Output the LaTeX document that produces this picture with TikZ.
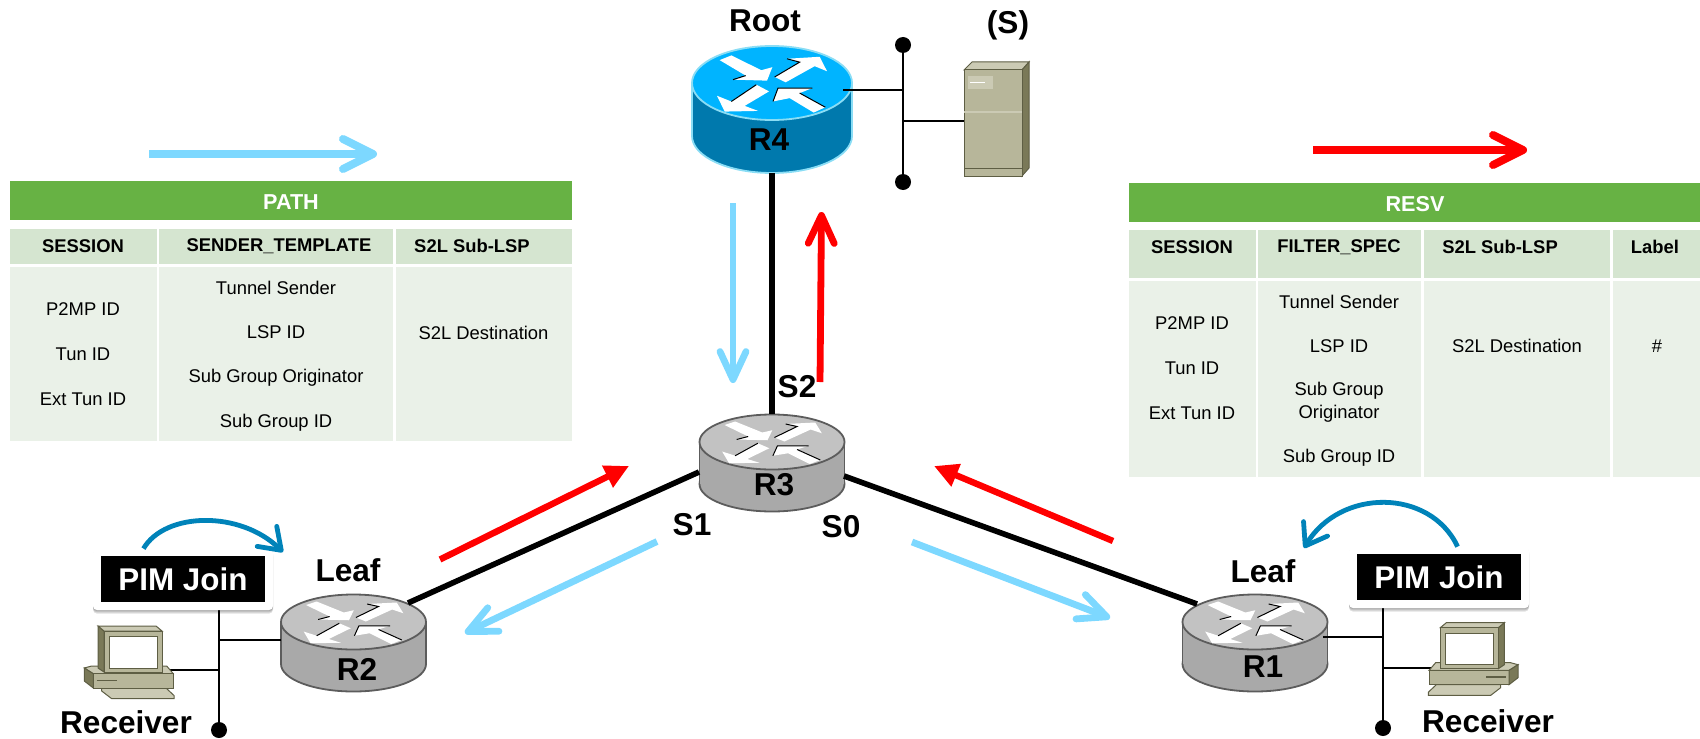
\documentclass[tikz,border=0pt]{standalone}
\usepackage{fontspec}
\setmainfont{Liberation Sans}
\usetikzlibrary{arrows.meta,shadows}

\definecolor{rootblue}{HTML}{00B4FF}
\definecolor{rootside}{HTML}{0079AD}
\definecolor{rootedge}{HTML}{8ADDF5}
\definecolor{coretop}{HTML}{C2C2C2}
\definecolor{coreside}{HTML}{A9A9A9}
\definecolor{coreedge}{HTML}{5C5C5C}
\definecolor{boxfront}{HTML}{B7B69A}
\definecolor{boxtop}{HTML}{CBCAB4}
\definecolor{boxside}{HTML}{7A7958}
\definecolor{boxedge}{HTML}{5E5E44}
\definecolor{tablegreen}{HTML}{67B244}
\definecolor{tablehead}{HTML}{D5E5D0}
\definecolor{tablebody}{HTML}{EAF1E8}
\definecolor{pathblue}{HTML}{7DD8FF}
\definecolor{joinblue}{HTML}{0083B9}

\tikzset{
  trunk/.style={line width=2.8pt,black},
  stub/.style={line width=1pt,black},
  bus/.style={line width=1.3pt,black},
  busdot/.style={circle,fill=black,inner sep=0pt,minimum size=8pt},
  keyflow/.style={line width=4pt,-{Straight Barb[length=15pt,width=15pt,round]}},
  flow/.style={line width=3.4pt,-{Straight Barb[length=14pt,width=13pt,round]}},
  solidflow/.style={line width=3.2pt,red,-{Triangle[length=12pt,width=11.5pt]}},
  joinflow/.style={line width=2.4pt,joinblue,-{Straight Barb[length=10pt,width=14pt,round]}},
  bigtext/.style={font=\fontsize{15.8}{17}\selectfont\bfseries,inner sep=0pt},
  headtext/.style={font=\fontsize{9.2}{11}\selectfont\bfseries,inner sep=0pt},
  bodytext/.style={font=\fontsize{9.2}{11}\selectfont,inner sep=0pt},
  titletext/.style={font=\fontsize{10.8}{12}\selectfont\bfseries,text=white,inner sep=0pt},
  softshadow/.style={drop shadow={shadow xshift=0pt,shadow yshift=#1,opacity=.12,fill=black}},
  pimbox/.style={fill=white,rounded corners=2pt,minimum width=90pt,minimum height=30.5pt,inner sep=0pt,
    softshadow=-.6pt,softshadow=-1.2pt,softshadow=-1.8pt},
  pimtext/.style={fill=black,text=white,minimum width=82pt,minimum height=23pt,inner sep=0pt,
    font=\fontsize{15.7}{17}\selectfont\bfseries},
  arrowedge/.style={black,line width=.5pt},
}

% name, cx, cy, rx, ry, height, top, side, edge
\newcommand{\router}[9]{
  \begin{scope}[shift={(#2,#3)}]
    \filldraw[fill=#8,draw=#9,line width=.9pt] (0,#6) ellipse [x radius=#4,y radius=#5];
    \fill[#8] (-#4,0) rectangle (#4,#6);
    \draw[#9,line width=.9pt] (-#4,0) -- (-#4,#6) (#4,0) -- (#4,#6);
    \filldraw[fill=#7,draw=#9,line width=.9pt] (0,0) ellipse [x radius=#4,y radius=#5];
    \begin{scope}[x={#4*0.5pt/240},y={-#5*0.5pt/110},shift={(-337,-250)}]
      \fill[white] (180,182) -- (215,168) -- (305,212) -- (338,203) -- (322,243) -- (220,240) -- (258,228) -- cycle;
      \fill[white] (345,232) -- (420,188) -- (382,178) -- (480,172) -- (502,215) -- (465,200) -- (378,248) -- cycle;
      \fill[white] (328,275) -- (290,255) -- (215,305) -- (172,288) -- (195,335) -- (295,333) -- (255,318) -- cycle;
      \fill[white] (340,305) -- (355,265) -- (458,265) -- (420,280) -- (497,322) -- (462,338) -- (390,295) -- cycle;
      \draw[arrowedge] (258,228) -- (220,240);
      \draw[arrowedge] (345,232) -- (420,188) -- (382,178);
      \draw[arrowedge] (215,305) -- (290,255);
      \draw[arrowedge] (340,305) -- (355,265) -- (458,265) (420,280) -- (497,322);
    \end{scope}
  \end{scope}
  \node[inner sep=0pt,minimum width={#4*1pt},minimum height={(#5+#6/2)*1pt}] (#1) at (#2,#3+#6/2) {};
}

% monitor corner is the origin
\newcommand{\desktop}{
  \begin{scope}[draw=boxedge,line width=.5pt]
    \filldraw[fill=boxtop] (-2.3,57) -- (62,57) -- (70,64.5) -- (70,67.7) -- (7.7,67.7) -- (-2.3,60) -- cycle;
    \filldraw[fill=boxtop] (-19.7,37) -- (-12.3,35) -- (62.7,35) -- (69.3,42.7) -- (-10.7,42.7) -- cycle;
    \filldraw[fill=boxfront] (-10.7,42.7) rectangle (69.3,57);
    \filldraw[fill=boxside] (-19.7,37) -- (-10.7,42.7) -- (-10.7,57) -- (-19.7,50) -- cycle;
    \draw[boxedge,line width=.7pt] (-7.3,49.3) -- (12.7,49.3);
    \filldraw[fill=boxside] (-6,-5) -- (0,0) -- (0,41) -- (-6,37) -- cycle;
    \filldraw[fill=boxtop] (-6,-5) -- (52,-5) -- (58,0) -- (0,0) -- cycle;
    \filldraw[fill=boxfront] (0,0) rectangle (58,41);
    \filldraw[fill=white,draw=boxedge] (5.3,5.3) rectangle (53.3,37);
  \end{scope}
}

\begin{document}
\begin{tikzpicture}[x=0.5pt,y=-0.5pt]
  \useasboundingbox (0,0) rectangle (1700,738);

  % routers
  \router{rfour}{772}{83}{80}{37}{53}{rootblue}{rootside}{rootedge}
  \router{rthree}{772}{442}{72.5}{27.5}{42}{coretop}{coreside}{coreedge}
  \router{rtwo}{353.5}{622}{72.5}{27.5}{42}{coretop}{coreside}{coreedge}
  \router{rone}{1255}{622}{72.5}{27.5}{42}{coretop}{coreside}{coreedge}

  \node[bigtext] (rfourname) at (769,140) {R4};
  \node[bigtext] (rthreename) at (774,485) {R3};
  \node[bigtext] (rtwoname) at (357,669) {R2};
  \node[bigtext] (ronename) at (1263,667) {R1};

  % trunk links
  \coordinate (sone) at (699,472);
  \coordinate (szero) at (844,476);
  \coordinate (rtwoport) at (408,603);
  \coordinate (roneport) at (1197,604);
  \draw[trunk] (rfour.south) -- (rthree.north);
  \draw[trunk] (sone) -- (rtwoport);
  \draw[trunk] (szero) -- (roneport);

  \node[bigtext] (roottext) at (765,21) {Root};
  \node[bigtext] (sourcetext) at (1008,25) {(S)};
  \node[bigtext] (stwotext) at (797,387) {S2};
  \node[bigtext] (sonetext) at (692,525) {S1};
  \node[bigtext] (szerotext) at (841,527) {S0};
  \node[bigtext] (leafleft) at (348,570) {Leaf};
  \node[bigtext] (leafright) at (1263,571) {Leaf};
  \node[bigtext] (recvleft) at (126,722) {Receiver};
  \node[bigtext] (recvright) at (1488,721) {Receiver};

  % source side
  \node[busdot] (busfourtop) at (903,45) {};
  \node[busdot] (busfourbot) at (903,182) {};
  \coordinate (rfourport) at (843,90.5);
  \coordinate (serverport) at (964,121);
  \draw[bus] (busfourtop) -- (busfourbot);
  \draw[stub] (rfourport) -- (rfourport -| busfourtop);
  \draw[stub] (serverport) -- (serverport -| busfourtop);

  \begin{scope}[draw=boxedge,line width=.5pt]
    \filldraw[fill=boxtop] (964,70) -- (972,62) -- (1029,62) -- (1022,70) -- cycle;
    \filldraw[fill=boxside] (1022,70) -- (1029,62) -- (1029,168) -- (1022,176) -- cycle;
    \filldraw[fill=boxfront] (964,70) rectangle (1022,176);
    \draw[boxtop,line width=.8pt] (964,112) -- (1022,112);
    \draw (964,168) -- (1022,168);
    \fill[boxtop] (968,76) rectangle (993,89);
    \draw[white,line width=.5pt] (970,83) -- (985,83);
  \end{scope}

  % receiver side
  \coordinate (bustwotop) at (219,610);
  \node[busdot] (bustwobot) at (219,730) {};
  \coordinate (rtwostub) at (281,640);
  \coordinate (pcleftport) at (168,670);
  \draw[bus] (bustwotop) -- (bustwobot);
  \draw[stub] (rtwostub) -- (rtwostub -| bustwotop);
  \draw[stub] (pcleftport) -- (pcleftport -| bustwotop);

  \coordinate (busonetop) at (1383,608);
  \node[busdot] (busonebot) at (1383,728) {};
  \coordinate (ronestub) at (1323,637);
  \coordinate (pcrightport) at (1433,668);
  \draw[bus] (busonetop) -- (busonebot);
  \draw[stub] (ronestub) -- (ronestub -| busonetop);
  \draw[stub] (pcrightport) -- (pcrightport -| busonetop);

  \begin{scope}[shift={(104,631)}]
    \desktop
  \end{scope}
  \begin{scope}[shift={(1498.3,627.7)},xscale=-1]
    \desktop
  \end{scope}

  % PIM boxes
  \node[pimbox] (pimboxl) at (183,579.5) {};
  \node[pimtext] (pimtextl) at (183,579) {PIM Join};
  \node[pimbox] (pimboxr) at (1439,577.5) {};
  \node[pimtext] (pimtextr) at (1439,577) {PIM Join};

  \coordinate (joinendl) at (283,552);
  \coordinate (joinendr) at (1304,548);
  \draw[joinflow] (pimboxl.142) .. controls (165,512) and (240,510) .. (joinendl);
  \draw[joinflow] (pimboxr.59) .. controls (1430,488) and (1340,488) .. (joinendr);

  % signalling arrows
  \coordinate (pathkeya) at (149,154);
  \coordinate (pathkeyb) at (377,154);
  \coordinate (resvkeya) at (1313,150);
  \coordinate (resvkeyb) at (1527,150);
  \coordinate (pathdowna) at (733,203);
  \coordinate (pathdownb) at (733,383);
  \coordinate (resvupa) at (820,382);
  \coordinate (resvupb) at (821.5,212);
  \coordinate (resvlefta) at (440,559.5);
  \coordinate (resvleftb) at (629,466);
  \coordinate (pathlefta) at (657,541.5);
  \coordinate (pathleftb) at (465,633);
  \coordinate (pathrighta) at (912,542);
  \coordinate (pathrightb) at (1110,618);
  \coordinate (resvrighta) at (1113,541);
  \coordinate (resvrightb) at (934,466);
  \draw[keyflow,pathblue] (pathkeya) -- (pathkeyb);
  \draw[keyflow,red] (resvkeya) -- (resvkeyb);
  \draw[flow,pathblue] (pathdowna) -- (pathdownb);
  \draw[flow,red] (resvupa) -- (resvupb);
  \draw[solidflow] (resvlefta) -- (resvleftb);
  \draw[flow,pathblue] (pathlefta) -- (pathleftb);
  \draw[flow,pathblue] (pathrighta) -- (pathrightb);
  \draw[solidflow] (resvrighta) -- (resvrightb);

  % PATH table
  \fill[tablegreen] (10,181) rectangle (571.5,220);
  \foreach \xa/\xb in {10/156.5,159/393,396/571.5}{
    \fill[tablehead] (\xa,228.7) rectangle (\xb,264.3);
    \fill[tablebody] (\xa,267) rectangle (\xb,440.7);
  }
  \node[titletext] (pathtitle) at (291,202) {PATH};
  \foreach \name/\x/\y/\txt in {pa/83/245.7/SESSION,pb/279/245.7/SENDER\_TEMPLATE,pc/472/245.7/S2L Sub-LSP}
    \node[headtext] (\name) at (\x,\y) {\txt};
  \foreach \name/\x/\y/\txt in {pd/83/309.3/P2MP ID,pe/83/354.3/Tun ID,pf/83/399.3/Ext Tun ID,
    pg/276/287.7/Tunnel Sender,ph/276/332.3/LSP ID,pi/276/377.7/Sub Group Originator,pj/276/422.7/Sub Group ID,
    pk/483.5/332.7/S2L Destination}
    \node[bodytext] (\name) at (\x,\y) {\txt};

  % RESV table
  \fill[tablegreen] (1128.5,182.7) rectangle (1700,222);
  \foreach \xa/\xb in {1128.5/1256,1258/1421,1424/1610,1613/1700}{
    \fill[tablehead] (\xa,230) rectangle (\xb,277.7);
    \fill[tablebody] (\xa,280.7) rectangle (\xb,476.7);
  }
  \node[titletext] (resvtitle) at (1415,204) {RESV};
  \foreach \name/\x/\y/\txt in {ra/1192/247.3/SESSION,rb/1339/247.3/FILTER\_SPEC,rc/1500/247.3/S2L Sub-LSP,rd/1655/247.3/Label}
    \node[headtext] (\name) at (\x,\y) {\txt};
  \foreach \name/\x/\y/\txt in {re/1192/323.3/P2MP ID,rf/1192/368.7/Tun ID,rg/1192/413.7/Ext Tun ID,
    rh/1339/301.7/Tunnel Sender,ri/1339/345.7/LSP ID,rj/1339/390.7/Sub Group,rk/1339/413.7/Originator,rl/1339/457.7/Sub Group ID,
    rm/1517/345.7/S2L Destination,rn/1657/346/\#}
    \node[bodytext] (\name) at (\x,\y) {\txt};
\end{tikzpicture}
\end{document}
